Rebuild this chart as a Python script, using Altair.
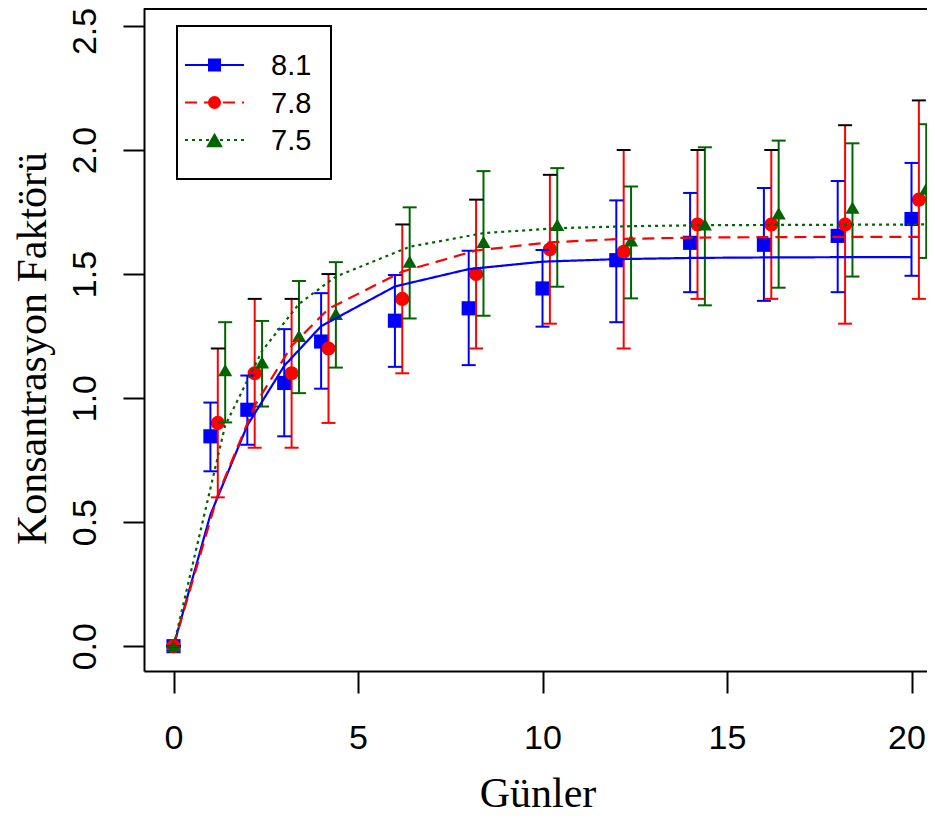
import altair as alt
import pandas as pd

# ---------------- data ----------------
series = ["8.1", "7.8", "7.5"]
colors = ["#0000FF", "#FF0000", "#006400"]
cap_colors = ["#0000FF", "#000000", "#006400"]
shapes = ["square", "circle", "triangle-up"]
sizes = [200, 200, 330]
dashes = [[1, 0], [12, 7], [3, 4]]

# x positions (days, with small offsets per series)
x_81 = [0, 1, 2, 3, 4, 6, 8, 10, 12, 14, 16, 18, 20]
x_78 = [0, 1.2, 2.2, 3.2, 4.2, 6.2, 8.2, 10.2, 12.2, 14.2, 16.2, 18.2, 20.2]
x_75 = [0, 1.4, 2.4, 3.4, 4.4, 6.4, 8.4, 10.4, 12.4, 14.4, 16.4, 18.4, 20.4]

# observed means
y_81 = [0, 0.846, 0.953, 1.061, 1.228, 1.312, 1.362, 1.442, 1.556, 1.626, 1.618, 1.654, 1.722]
y_78 = [0, 0.90, 1.10, 1.10, 1.20, 1.40, 1.50, 1.60, 1.59, 1.70, 1.70, 1.70, 1.80]
y_75 = [0, 1.113, 1.144, 1.251, 1.340, 1.550, 1.630, 1.698, 1.636, 1.700, 1.745, 1.768, 1.844]

# error bar limits
lo_81 = [0, 0.705, 0.812, 0.846, 1.038, 1.126, 1.133, 1.288, 1.306, 1.427, 1.392, 1.427, 1.493]
hi_81 = [0, 0.982, 1.091, 1.278, 1.423, 1.496, 1.594, 1.597, 1.797, 1.827, 1.847, 1.875, 1.948]
lo_78 = [0, 0.60, 0.80, 0.80, 0.90, 1.10, 1.20, 1.30, 1.20, 1.40, 1.40, 1.30, 1.40]
hi_78 = [0, 1.20, 1.40, 1.40, 1.50, 1.70, 1.80, 1.90, 2.00, 2.00, 2.00, 2.10, 2.20]
lo_75 = [0, 0.902, 0.966, 1.020, 1.123, 1.321, 1.332, 1.449, 1.402, 1.374, 1.445, 1.490, 1.565]
hi_75 = [0, 1.306, 1.311, 1.472, 1.548, 1.769, 1.915, 1.927, 1.853, 2.011, 2.038, 2.027, 2.104]

# fitted curves (read at the same x positions)
fit_81 = [0, 0.53, 0.89, 1.13, 1.29, 1.45, 1.52, 1.55, 1.56, 1.565, 1.567, 1.568, 1.568]
fit_78 = [0, 0.61, 0.97, 1.21, 1.36, 1.51, 1.595, 1.628, 1.642, 1.647, 1.649, 1.650, 1.650]
fit_75 = [0, 0.89, 1.19, 1.38, 1.49, 1.61, 1.665, 1.685, 1.693, 1.697, 1.698, 1.699, 1.700]

x_ticks = [0, 5, 10, 15, 20]
y_ticks = [0, 0.5, 1.0, 1.5, 2.0, 2.5]

# ---------------- table ----------------
rows = []
for i, (s, xs, ys, los, his, fits) in enumerate([
    ("8.1", x_81, y_81, lo_81, hi_81, fit_81),
    ("7.8", x_78, y_78, lo_78, hi_78, fit_78),
    ("7.5", x_75, y_75, lo_75, hi_75, fit_75),
]):
    for j in range(len(xs)):
        rows.append({"series": s, "order": i, "x": xs[j], "y": ys[j], "lo": los[j],
                     "hi": his[j], "fit": fits[j], "cap": cap_colors[i]})
df = pd.DataFrame(rows)

W, H = 783, 663
X_DOM = [-0.8, 20.42]
Y_DOM = [-0.1, 2.5725]

x_axis = alt.Axis(values=x_ticks, tickSize=22, tickWidth=2, tickColor="black",
                  domainColor="black", domainWidth=2, grid=False,
                  labelFont="Liberation Sans", labelFontSize=34, labelColor="black",
                  labelPadding=55, labelBaseline="alphabetic", labelFlush=False,
                  labelOverlap=False,
                  labelOffset={"condition": {"test": "datum.value >= 20", "value": -5},
                               "value": 0},
                  titleFont="Liberation Serif", titleFontSize=42, titleFontWeight="normal",
                  titleColor="black", titleX=393.5, titleY=135, titleAlign="center",
                  titleBaseline="alphabetic")
y_axis = alt.Axis(values=y_ticks, format=".1f", tickSize=21, tickWidth=2, tickColor="black",
                  domainColor="black", domainWidth=2, grid=False,
                  labelFont="Liberation Sans", labelFontSize=34, labelColor="black",
                  labelAngle=270, labelAlign="center", labelBaseline="alphabetic",
                  labelPadding=28, labelFlush=False, labelOverlap=False,
                  labelOffset={"condition": {"test": "datum.value >= 2.5", "value": 5},
                               "value": 0},
                  titleFont="Liberation Serif", titleFontSize=42, titleFontWeight="normal",
                  titleColor="black", titleAngle=270, titleX=-99, titleY=340,
                  titleAlign="center", titleBaseline="alphabetic")

x_scale = alt.Scale(domain=X_DOM, nice=False, zero=False)
y_scale = alt.Scale(domain=Y_DOM, nice=False, zero=False)


def X(field):
    return alt.X(f"{field}:Q", scale=x_scale, axis=x_axis, title="Günler")


def Y(field):
    return alt.Y(f"{field}:Q", scale=y_scale, axis=y_axis, title="Konsantrasyon Faktörü")


color = alt.Color("series:N", scale=alt.Scale(domain=series, range=colors), legend=None)

base = alt.Chart(df)

points = base.mark_point(filled=True, opacity=1, strokeWidth=0).encode(
    x=X("x"), y=Y("y"), color=color,
    shape=alt.Shape("series:N", scale=alt.Scale(domain=series, range=shapes), legend=None),
    size=alt.Size("series:N", scale=alt.Scale(domain=series, range=sizes), legend=None),
    order=alt.Order("order:Q"),
)

bars = base.mark_rule(strokeWidth=2).encode(
    x=X("x"), y=Y("lo"), y2="hi:Q", color=color)

caps_lo = base.mark_rule(strokeWidth=2, xOffset=-7, x2Offset=7).encode(
    x=X("x"), x2="x:Q", y=Y("lo"), color=color)

caps_hi = base.mark_rule(strokeWidth=2, xOffset=-7, x2Offset=7).encode(
    x=X("x"), x2="x:Q", y=Y("hi"), color=alt.Color("cap:N", scale=None))

lines = base.mark_line(strokeWidth=2.2, clip=True).encode(
    x=X("x"), y=Y("fit"), color=color,
    strokeDash=alt.StrokeDash("series:N", scale=alt.Scale(domain=series, range=dashes),
                              legend=None),
    detail="series:N", order="x:Q")

one = alt.Chart(pd.DataFrame({"a": [0]}))

top_border = one.mark_rule(color="black", strokeWidth=2).encode(
    x=alt.value(0), x2=alt.value(W), y=alt.value(1))

# ---------------- legend (drawn by hand) ----------------
leg_layers = [one.mark_rect(fill="white", stroke="black", strokeWidth=2).encode(
    x=alt.value(33), x2=alt.value(187), y=alt.value(18), y2=alt.value(171))]
row_y = [57, 94.5, 132]
for i, s in enumerate(series):
    leg_layers.append(one.mark_rule(color=colors[i], strokeWidth=2,
                                    strokeDash=dashes[i]).encode(
        x=alt.value(41), x2=alt.value(100), y=alt.value(row_y[i])))
    leg_layers.append(one.mark_point(filled=True, opacity=1, strokeWidth=0,
                                     color=colors[i], shape=shapes[i],
                                     size=sizes[i] * 0.85).encode(
        x=alt.value(70.5), y=alt.value(row_y[i])))
    leg_layers.append(one.mark_text(text=s, font="Liberation Sans", fontSize=29,
                                    color="black", align="left",
                                    baseline="middle").encode(
        x=alt.value(127), y=alt.value(row_y[i] + 1)))

chart = alt.layer(points, bars, caps_lo, caps_hi, lines, top_border, *leg_layers).properties(
    width=W, height=H,
    autosize=alt.AutoSizeParams(type="none"),
    padding={"left": 136, "top": 0, "right": 0, "bottom": 144},
).configure_view(strokeWidth=0)

chart.save("out.html", embed_options={"renderer": "svg", "actions": False})
